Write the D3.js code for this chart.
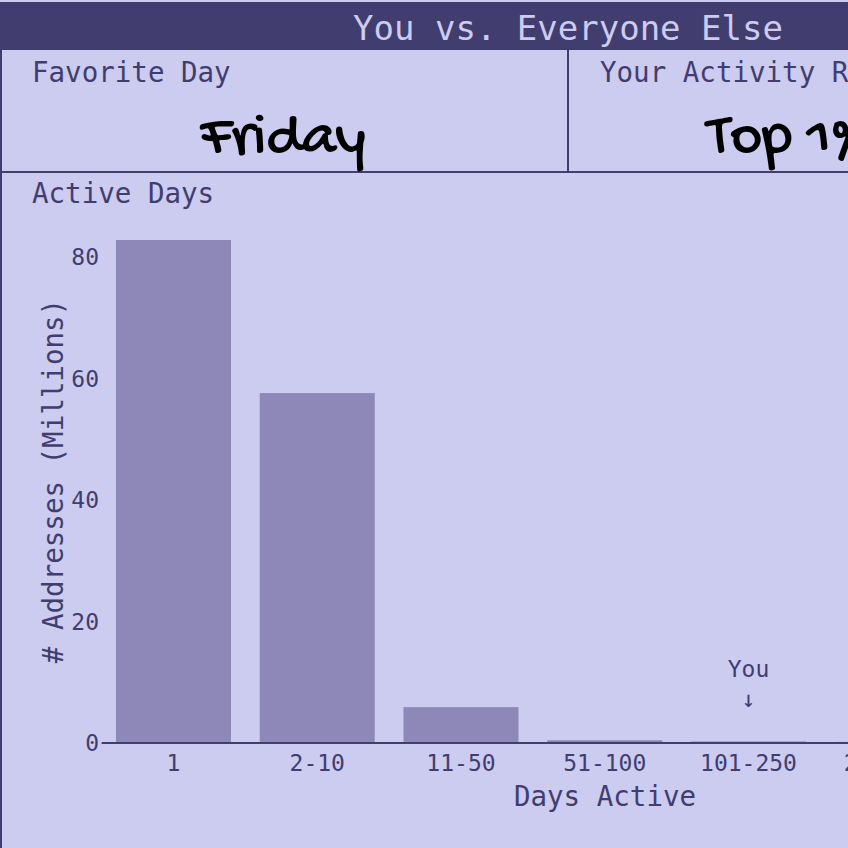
<!DOCTYPE html>
<html>
<head>
<meta charset="utf-8">
<script src="https://cdn.jsdelivr.net/npm/d3@7"></script>
<style>
  html, body { margin: 0; padding: 0; background: #cccbf0; overflow: hidden; }
  svg { display: block; }
</style>
</head>
<body>
<div id="chart"></div>
<script>
// ---- data ----
const categories = ["1", "2-10", "11-50", "51-100", "101-250", "251-500", "500+"];
const addressesMillions = [82.8, 57.6, 5.9, 0.45, 0.22, 0.18, 0.05];
const yTicks = [0, 20, 40, 60, 80];
const youCategory = "101-250";
const title = "You vs. Everyone Else";
const cards = [
  { label: "Favorite Day", value: "Friday" },
  { label: "Your Activity Rank", value: "Top 1%" }
];

// ---- style ----
const bg = "#cccbf0", dark = "#413d6e", barColor = "#8e88b8", youColor = "#6b6791";
const mono = "'DejaVu Sans Mono', 'Liberation Mono', monospace";
const hand = "'Gochi Hand', 'Comic Sans MS', 'Comic Neue', cursive";

const W = 848, H = 848, fullW = 1136;
const svg = d3.select("#chart").append("svg").attr("width", W).attr("height", H)
  .style("overflow", "hidden");

svg.append("rect").attr("width", W).attr("height", H).attr("fill", bg);

// banner
svg.append("rect").attr("x", 0).attr("y", 2).attr("width", fullW).attr("height", 48).attr("fill", dark);
svg.append("text").attr("x", fullW / 2).attr("y", 40).attr("text-anchor", "middle")
  .attr("font-family", mono).attr("font-size", 34).attr("fill", bg).text(title);

// card row borders
svg.append("line").attr("x1", 1).attr("x2", 1).attr("y1", 50).attr("y2", H).attr("stroke", dark).attr("stroke-width", 2);
svg.append("line").attr("x1", 568).attr("x2", 568).attr("y1", 50).attr("y2", 172).attr("stroke", dark).attr("stroke-width", 2);
svg.append("line").attr("x1", 0).attr("x2", fullW).attr("y1", 172).attr("y2", 172).attr("stroke", dark).attr("stroke-width", 2);

cards.forEach((c, i) => {
  const x0 = i * 568;
  svg.append("text").attr("x", x0 + 32).attr("y", 82)
    .attr("font-family", mono).attr("font-size", 27.5).attr("fill", dark).text(c.label);
  svg.append("text").attr("x", i === 0 ? x0 + 283 : x0 + 139).attr("y", 151)
    .attr("text-anchor", i === 0 ? "middle" : "start")
    .attr("font-family", hand).attr("font-size", 61).attr("fill", "#000").text(c.value);
});

// chart panel
svg.append("text").attr("x", 32).attr("y", 203)
  .attr("font-family", mono).attr("font-size", 27.5).attr("fill", dark).text("Active Days");

const x = d3.scaleBand().domain(categories).range([101.6, 1107.9]).paddingInner(0.2).paddingOuter(0.1);
const y = d3.scaleLinear().domain([0, 80]).range([743, 257]);

svg.append("g").selectAll("rect").data(categories).join("rect")
  .attr("x", d => x(d))
  .attr("width", x.bandwidth())
  .attr("y", (d, i) => y(addressesMillions[i]))
  .attr("height", (d, i) => y(0) - y(addressesMillions[i]))
  .attr("fill", d => d === youCategory ? youColor : barColor);

// baseline
svg.append("line").attr("x1", 101.6).attr("x2", 1107.9).attr("y1", y(0)).attr("y2", y(0))
  .attr("stroke", dark).attr("stroke-width", 2);

// y tick labels
svg.append("g").selectAll("text").data(yTicks).join("text")
  .attr("x", 99).attr("y", d => y(d)).attr("dy", "0.35em").attr("text-anchor", "end")
  .attr("font-family", mono).attr("font-size", 23).attr("fill", dark).text(d => d);

// x tick labels
svg.append("g").selectAll("text").data(categories).join("text")
  .attr("x", d => x(d) + x.bandwidth() / 2).attr("y", 771).attr("text-anchor", "middle")
  .attr("font-family", mono).attr("font-size", 23).attr("fill", dark).text(d => d);

// axis titles
svg.append("text").attr("x", 605).attr("y", 806).attr("text-anchor", "middle")
  .attr("font-family", mono).attr("font-size", 27.5).attr("fill", dark).text("Days Active");
svg.append("text").attr("transform", "translate(63,481) rotate(-90)").attr("text-anchor", "middle")
  .attr("font-family", mono).attr("font-size", 27.5).attr("fill", dark).text("# Addresses (Millions)");

// You annotation
const yx = x(youCategory) + x.bandwidth() / 2;
svg.append("text").attr("x", yx).attr("y", 677).attr("text-anchor", "middle")
  .attr("font-family", mono).attr("font-size", 23).attr("fill", dark).text("You");
svg.append("text").attr("x", yx).attr("y", 707).attr("text-anchor", "middle")
  .attr("font-family", mono).attr("font-size", 23).attr("fill", dark).text("↓");
</script>
</body>
</html>
